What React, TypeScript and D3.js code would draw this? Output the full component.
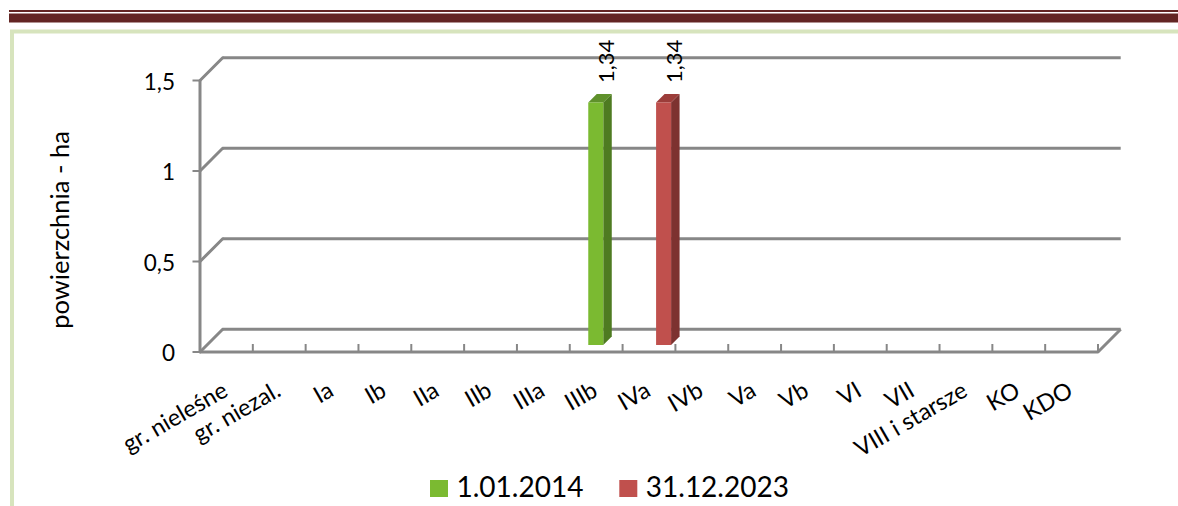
import React from 'react';
import * as d3 from 'd3';

const categories = ['gr. nieleśne', 'gr. niezal.', 'Ia', 'Ib', 'IIa', 'IIb', 'IIIa', 'IIIb', 'IVa', 'IVb', 'Va', 'Vb', 'VI', 'VII', 'VIII i starsze', 'KO', 'KDO'];
const seriesNames = ['1.01.2014', '31.12.2023'];
const series2014 = [0, 0, 0, 0, 0, 0, 0, 1.34, 0, 0, 0, 0, 0, 0, 0, 0, 0];
const series2023 = [0, 0, 0, 0, 0, 0, 0, 0, 1.34, 0, 0, 0, 0, 0, 0, 0, 0];
const yTicks = [0, 0.5, 1, 1.5];
const yTitle = 'powierzchnia - ha';

const W = 1178;
const H = 506;
const FONT = 'Lato, "Open Sans", sans-serif';

const locale = d3.formatLocale({ decimal: ',', thousands: ' ', grouping: [3], currency: ['', ''] });
const fmtTick = locale.format('~g');
const fmtLabel = locale.format('.2f');

const colors = [
  { front: '#7BBA31', side: '#4E7B21', top: '#5F912B' },
  { front: '#C0504D', side: '#7D3230', top: '#9C3D3A' },
];

export default function App() {
  const x0 = 200, x1 = 1098;
  const yBase = 352, yTop = 80.5;
  const wallD = 22.7; // wall depth offset
  const barShift = 7; // bar front offset into depth
  const barDepth = 8.5;
  const gridColor = '#878787';

  const x = d3.scaleBand<string>().domain(categories).range([x0, x1]).padding(0);
  const inner = d3.scaleBand<string>().domain(seriesNames).range([11.5, 41.5]).padding(0);
  const y = d3.scaleLinear().domain([0, 1.5]).range([yBase, yTop]);

  const allSeries = [series2014, series2023];

  const bars: React.ReactNode[] = [];
  const labels: React.ReactNode[] = [];
  allSeries.forEach((vals, si) => {
    vals.forEach((v, ci) => {
      if (!v) return;
      const c = colors[si];
      const bx0 = (x(categories[ci]) as number) + (inner(seriesNames[si]) as number) + barShift;
      const bx1 = bx0 + inner.bandwidth();
      const yb = y(0) - barShift;
      const yt = y(v) - barShift;
      const d = barDepth;
      bars.push(
        <g key={`b${si}-${ci}`}>
          <polygon points={`${bx1},${yt} ${bx1 + d},${yt - d} ${bx1 + d},${yb - d} ${bx1},${yb}`} fill={c.side} />
          <polygon points={`${bx0},${yt} ${bx0 + d},${yt - d} ${bx1 + d},${yt - d} ${bx1},${yt}`} fill={c.top} />
          <rect x={bx0} y={yt} width={bx1 - bx0} height={yb - yt} fill={c.front} />
        </g>
      );
      const lx = bx1 + d + 2.5;
      const ly = yt - d - 11;
      labels.push(
        <text key={`l${si}-${ci}`} transform={`translate(${lx},${ly}) rotate(-90)`} fontSize={22} fontFamily={FONT} fill="#000">
          {fmtLabel(v)}
        </text>
      );
    });
  });

  return (
    <svg width={W} height={H} style={{ position: 'absolute', left: 0, top: 0, background: '#fff' }}>
      {/* page decorations */}
      <rect x={9} y={10} width={W - 9} height={2} fill="#632523" />
      <rect x={9} y={13.5} width={W - 9} height={9} fill="#632523" />
      <path d={`M12,${H} L12,31.5 L${W},31.5`} fill="none" stroke="#D7E4BD" strokeWidth={4} />

      {/* back wall gridlines and side diagonals */}
      {yTicks.map((t) => (
        <g key={`g${t}`}>
          <line x1={x0} y1={y(t)} x2={x0 + wallD} y2={y(t) - wallD} stroke={gridColor} strokeWidth={3} strokeLinecap="round" />
          <line x1={x0 + wallD} y1={y(t) - wallD} x2={x1 + wallD} y2={y(t) - wallD} stroke={gridColor} strokeWidth={3} />
          <line x1={x0 - 7.5} y1={y(t)} x2={x0} y2={y(t)} stroke={gridColor} strokeWidth={2} />
          <text x={175} y={y(t) + 9} textAnchor="end" fontSize={22.5} fontFamily={FONT} fill="#000">{fmtTick(t)}</text>
        </g>
      ))}

      {/* floor front edge + right diagonal */}
      <path d={`M${x0},${yBase} L${x1},${yBase} L${x1 + wallD},${yBase - wallD}`} fill="none" stroke={gridColor} strokeWidth={3} strokeLinejoin="round" />
      {/* y axis */}
      <line x1={x0} y1={yTop} x2={x0} y2={yBase} stroke={gridColor} strokeWidth={3} />
      {/* x ticks */}
      {categories.map((c, i) => {
        const tx = (x(c) as number) + x.bandwidth();
        return <line key={`t${i}`} x1={tx} y1={yBase - 8} x2={tx} y2={yBase} stroke={gridColor} strokeWidth={2} />;
      })}

      {bars}
      {labels}

      {/* x labels */}
      {categories.map((c, i) => {
        const cx = (x(c) as number) + x.bandwidth() / 2 + 3;
        return (
          <text key={`x${i}`} transform={`translate(${cx},395) rotate(-30)`} textAnchor="end" fontSize={23.5} fontFamily={FONT} fill="#000">
            {c}
          </text>
        );
      })}

      {/* y title */}
      <text transform={`translate(69,230) rotate(-90)`} textAnchor="middle" fontSize={25.5} fontFamily={FONT} fill="#000">{yTitle}</text>

      {/* legend */}
      {seriesNames.map((s, i) => {
        const lx = i === 0 ? 430 : 619.3;
        return (
          <g key={`lg${i}`}>
            <rect x={lx} y={480} width={18} height={17} fill={colors[i].front} />
            <text x={lx + 26.5} y={497} fontSize={28} fontFamily={FONT} fill="#000">{s}</text>
          </g>
        );
      })}
    </svg>
  );
}
